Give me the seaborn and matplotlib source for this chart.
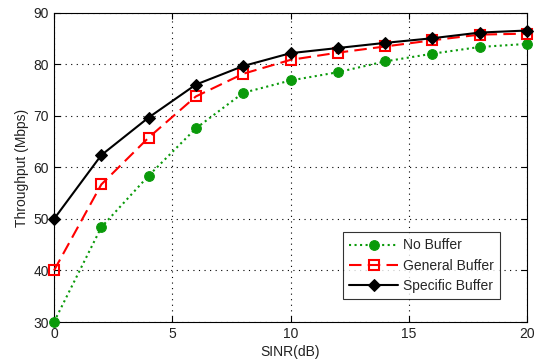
import matplotlib
matplotlib.use("Agg")
import matplotlib.pyplot as plt
import seaborn as sns
import pandas as pd

sinr = [0, 2, 4, 6, 8, 10, 12, 14, 16, 18, 20]
no_buffer = [30, 48.4, 58.4, 67.6, 74.5, 76.9, 78.5, 80.6, 82.1, 83.4, 84.0]
general_buffer = [40, 56.7, 65.8, 73.8, 78.2, 80.9, 82.3, 83.5, 84.7, 85.8, 86.0]
specific_buffer = [50, 62.4, 69.7, 76.1, 79.7, 82.2, 83.2, 84.2, 85.1, 86.2, 86.6]
series_names = ["No Buffer", "General Buffer", "Specific Buffer"]

sns.set_style("white")
plt.rcParams['font.family'] = ['Liberation Sans', 'DejaVu Sans']

fig = plt.figure(figsize=(5.35, 3.63), dpi=100)
ax = fig.add_axes([54/535, 1-322/363, (527-54)/535, (322-13)/363])

styles = [
    dict(color="#0a9a0a", linestyle=":", marker="o", markersize=7, markerfacecolor="#0a9a0a", markeredgecolor="#0a9a0a", linewidth=1.5),
    dict(color="#ff0000", linestyle=(0, (6, 3)), marker="s", markersize=7, markerfacecolor="none", markeredgecolor="#ff0000", markeredgewidth=1.5, linewidth=1.5),
    dict(color="black", linestyle="-", marker="D", markersize=6.5, markerfacecolor="black", markeredgecolor="black", linewidth=1.5),
]
for name, vals, st in zip(series_names, [no_buffer, general_buffer, specific_buffer], styles):
    df = pd.DataFrame({"x": sinr, "y": vals})
    sns.lineplot(data=df, x="x", y="y", ax=ax, label=name, clip_on=False, zorder=3, **st)

ax.set_xlim(0, 20)
ax.set_ylim(30, 90)
ax.set_xticks([0, 5, 10, 15, 20])
ax.set_yticks([30, 40, 50, 60, 70, 80, 90])
ax.grid(True, color="black", linestyle=(0, (1, 4)), linewidth=0.8)
for s in ax.spines.values():
    s.set_color("black")
    s.set_linewidth(0.8)
ax.tick_params(direction="in", length=4, width=0.8, colors="black", labelsize=10, top=True, right=True, bottom=True, left=True)
for lab in ax.get_xticklabels() + ax.get_yticklabels():
    lab.set_color("#222222")
ax.set_xlabel("SINR(dB)", fontsize=10, color="#222222", labelpad=3)
ax.set_ylabel("Throughput (Mbps)", fontsize=10, color="#222222", labelpad=3)

leg = ax.legend(loc="lower right", bbox_to_anchor=(0.943, 0.074), fontsize=10, frameon=True, fancybox=False,
                edgecolor="black", handlelength=3.5, borderpad=0.45, labelspacing=0.45, handletextpad=0.35,
                borderaxespad=0)
leg.get_frame().set_linewidth(0.8)
leg.set_zorder(5)

fig.savefig("out.png", dpi=100)
